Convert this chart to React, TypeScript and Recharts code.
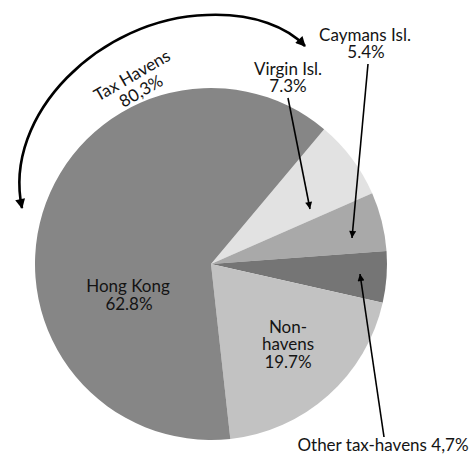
import React from 'react'
import { PieChart, Pie, Cell } from 'recharts'

// slices, clockwise from the Hong Kong / Virgin Isl. edge
const sliceNames = ['Virgin Isl.', 'Caymans Isl.', 'Other tax-havens', 'Non-havens', 'Hong Kong']
const sliceShares = [7.3, 5.4, 4.7, 19.7, 62.8]
const shareLabels = ['7.3%', '5.4%', '4,7%', '19.7%', '62.8%']
const groupName = 'Tax Havens'
const groupShare = '80,3%'

const COLORS = ['#e2e2e2', '#a9a9a9', '#757575', '#c2c2c2', '#868686']
const FONT = 'Lato, "Open Sans", sans-serif'
const INK = '#141414'

const chartData = sliceNames.map((name, i) => ({ name, value: sliceShares[i], label: shareLabels[i] }))

// overlay with the labels, leader arrows and the tax-haven bracket
const Annotations = () => {
  const t = { fontFamily: FONT, fontSize: 17, fill: INK, textAnchor: 'middle' as const }
  return (
    <svg width={470} height={454} style={{ position: 'absolute', left: 0, top: 0, pointerEvents: 'none' }}>
      <defs>
        <marker id="thin" viewBox="0 0 10 10" refX="10" refY="5" markerWidth="9" markerHeight="7"
          markerUnits="userSpaceOnUse" orient="auto-start-reverse">
          <path d="M0,0 L10,5 L0,10 z" fill="#000" />
        </marker>
        <marker id="thick" viewBox="0 0 10 10" refX="9" refY="5" markerWidth="13" markerHeight="10"
          markerUnits="userSpaceOnUse" orient="auto-start-reverse">
          <path d="M0,0 L10,5 L0,10 z" fill="#000" />
        </marker>
      </defs>

      <path d="M 22,208 C 2,115 100,18 207,15 C 255,13 288,28 305,46" fill="none" stroke="#000"
        strokeWidth={2.6} markerStart="url(#thick)" markerEnd="url(#thick)" />
      <g transform="rotate(-30, 137, 84)">
        <text {...t} x={137} y={80}>{groupName}</text>
        <text {...t} x={137} y={98}>{groupShare}</text>
      </g>

      <line x1={288} y1={98} x2={310} y2={209} stroke="#000" strokeWidth={1.6} markerEnd="url(#thin)" />
      <line x1={368} y1={64} x2={352} y2={238} stroke="#000" strokeWidth={1.6} markerEnd="url(#thin)" />
      <line x1={384} y1={437} x2={360} y2={274} stroke="#000" strokeWidth={1.6} markerEnd="url(#thin)" />

      <text {...t} x={288} y={75}>{sliceNames[0]}</text>
      <text {...t} x={288} y={92}>{shareLabels[0]}</text>
      <text {...t} x={365} y={41}>{sliceNames[1]}</text>
      <text {...t} x={366} y={58}>{shareLabels[1]}</text>
      <text {...t} x={383} y={451}>{`${sliceNames[2]} ${shareLabels[2]}`}</text>
      <text {...t} x={288} y={333}>Non-</text>
      <text {...t} x={288} y={350}>havens</text>
      <text {...t} x={288} y={368}>{shareLabels[3]}</text>
      <text {...t} x={128} y={292}>{sliceNames[4]}</text>
      <text {...t} x={129} y={310}>{shareLabels[4]}</text>
    </svg>
  )
}

export default function App() {
  return (
    <div style={{ position: 'absolute', left: 0, top: 0, width: 470, height: 454, background: '#fff' }}>
      <PieChart width={470} height={454} margin={{ top: 0, right: 0, bottom: 0, left: 0 }}>
        <Pie
          data={chartData}
          dataKey="value"
          nameKey="name"
          cx={211}
          cy={264}
          outerRadius={176}
          startAngle={50}
          endAngle={-310}
          stroke="none"
          isAnimationActive={false}
        >
          {chartData.map((d, i) => (
            <Cell key={d.name} fill={COLORS[i]} />
          ))}
        </Pie>
      </PieChart>
      <Annotations />
    </div>
  )
}
